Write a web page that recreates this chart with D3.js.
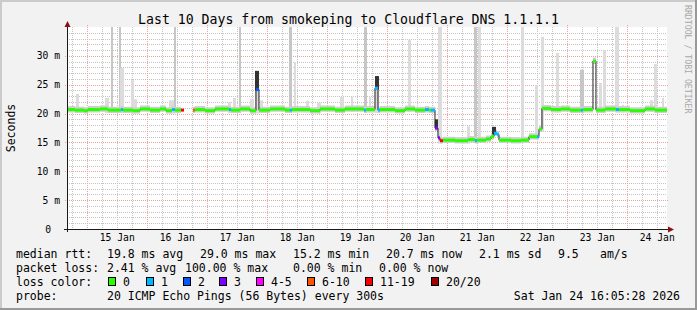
<!DOCTYPE html>
<html>
<head>
<meta charset="utf-8">
<script src="https://cdn.jsdelivr.net/npm/d3@7"></script>
<style>
  body { margin: 0; background: #fff; }
  svg text { font-family: 'DejaVu Sans Mono', monospace; }
</style>
</head>
<body>
<div id="chart"></div>
<script>
// Loss colour classes
const lossLabels = ['0', '1', '2', '3', '4-5', '6-10', '11-19', '20/20'];
const lossColors = ['#26ff00', '#00b8ff', '#0059ff', '#7e00ff', '#ff00ff', '#ff5500', '#ff0000', '#a10000'];

// Median rtt in ms (step after each time), null = no data, with loss class index
const medianTimes = [
  '01-14 16:05', '01-14 19:17', '01-14 22:53', '01-15 00:29', '01-15 05:17', '01-15 08:29',
  '01-15 13:41', '01-15 14:29', '01-15 18:29', '01-15 21:17', '01-16 01:17', '01-16 05:17',
  '01-16 07:41', '01-16 10:05', '01-16 11:17', '01-16 13:41', '01-16 14:53', '01-16 18:29',
  '01-16 19:17', '01-16 23:17', '01-17 03:17', '01-17 08:53', '01-17 09:41', '01-17 13:17',
  '01-17 17:17', '01-17 19:41', '01-17 20:53', '01-18 01:17', '01-18 07:17', '01-18 09:17',
  '01-18 10:05', '01-18 17:17', '01-18 21:17', '01-19 03:17', '01-19 07:17', '01-19 14:53',
  '01-19 15:41', '01-19 19:17', '01-19 20:29', '01-19 21:17', '01-20 03:17', '01-20 07:17',
  '01-20 11:17', '01-20 15:17', '01-20 16:53', '01-20 17:41', '01-20 19:17', '01-20 20:29',
  '01-20 21:17', '01-20 22:29', '01-21 03:17', '01-21 08:29', '01-21 11:17', '01-21 12:05',
  '01-21 15:41', '01-21 17:41', '01-21 18:53', '01-21 20:05', '01-21 20:53', '01-22 01:41',
  '01-22 05:41', '01-22 08:53', '01-22 12:05', '01-22 12:53', '01-22 14:05', '01-22 17:41',
  '01-22 21:41', '01-23 01:17', '01-23 05:41', '01-23 06:29', '01-23 10:29', '01-23 11:41',
  '01-23 15:17', '01-23 19:41', '01-23 20:53', '01-24 01:17', '01-24 07:17', '01-24 11:17'
];
const medianValues = [
  20.7, 20.6, 20.5, 20.7, 20.8, 20.6,
  20.7, 20.6, 20.5, 20.8, 20.6, 20.8,
  20.5, 20.7, 20.6, 20.6, null, 20.6,
  20.7, 20.5, 20.8, 20.7, 20.6, 20.8,
  20.5, 24.2, 20.6, 20.8, 20.6, 20.6,
  20.7, 20.5, 20.8, 20.6, 20.8, 20.6,
  20.7, 24.4, 20.6, 20.7, 20.5, 20.8,
  20.6, 20.7, 20.6, 20.6, 17.5, 15.8,
  15.3, 15.4, 15.3, 15.5, 15.3, 15.4,
  15.6, 16.0, 16.6, 16.4, 15.4, 15.3,
  15.4, 16.0, 16.0, 17.3, 20.9, 20.7,
  20.8, 20.6, 20.6, 20.7, 29.1, 20.6,
  20.8, 20.7, 20.7, 20.5, 20.8, 20.6
];
const medianLoss = [
  0, 0, 0, 0, 0, 0,
  1, 0, 0, 0, 0, 0,
  0, 1, 0, 6, 0, 5,
  0, 0, 0, 1, 0, 0,
  0, 2, 0, 0, 0, 1,
  0, 0, 0, 0, 0, 1,
  0, 1, 1, 0, 0, 0,
  0, 1, 0, 1, 3, 3,
  6, 0, 0, 0, 1, 0,
  0, 0, 1, 1, 0, 0,
  0, 0, 1, 0, 0, 0,
  0, 0, 1, 0, 0, 0,
  0, 1, 0, 0, 0, 0
];

// Outlier smoke columns: start, end, top (ms), shade (1 light, 2 medium)
const spikeStart = [
  '01-14 19:41', '01-15 07:17', '01-15 09:41', '01-15 12:53', '01-15 13:17', '01-15 17:41',
  '01-15 18:53', '01-16 08:53', '01-16 10:53', '01-17 08:29', '01-17 10:29', '01-17 12:53',
  '01-17 17:17', '01-17 19:17', '01-17 21:17', '01-18 08:53', '01-18 10:53', '01-18 15:41',
  '01-18 20:05', '01-19 05:17', '01-19 09:41', '01-19 14:53', '01-19 16:53', '01-19 19:17',
  '01-20 08:29', '01-20 20:29', '01-21 08:05', '01-21 10:53', '01-21 12:29', '01-22 05:41',
  '01-22 11:17', '01-22 13:41', '01-22 19:41', '01-23 05:17', '01-23 12:53', '01-23 14:29',
  '01-23 19:17', '01-23 22:05', '01-24 09:17', '01-24 10:53', '01-24 14:05'
];
const spikeEnd = [
  '01-14 20:53', '01-15 08:53', '01-15 10:29', '01-15 13:41', '01-15 14:53', '01-15 18:53',
  '01-15 20:05', '01-16 11:17', '01-16 11:41', '01-17 09:41', '01-17 11:41', '01-17 13:41',
  '01-17 18:53', '01-17 20:53', '01-17 22:29', '01-18 10:05', '01-18 11:41', '01-18 16:53',
  '01-18 21:41', '01-19 06:53', '01-19 10:29', '01-19 16:05', '01-19 17:41', '01-19 20:53',
  '01-20 09:41', '01-20 22:05', '01-21 09:17', '01-21 12:05', '01-21 13:41', '01-22 06:53',
  '01-22 12:29', '01-22 14:53', '01-22 20:53', '01-23 06:53', '01-23 14:05', '01-23 15:41',
  '01-23 20:53', '01-23 22:53', '01-24 10:29', '01-24 12:05', '01-24 14:53'
];
const spikeTop = [
  23.4, 22.7, 40, 40, 27.9, 25.8,
  22.5, 22.3, 40, 22.0, 22.7, 40,
  22.5, 24.2, 22.3, 40, 28.9, 22.2,
  21.9, 22.9, 22.9, 40, 22.8, 24.4,
  32.8, 40, 17.8, 40, 40, 40,
  25.0, 33.3, 30.5, 27.6, 25.3, 31.0,
  40, 21.5, 22.3, 28.6, 22.7
];
const spikeShade = [
  1, 1, 2, 2, 1, 1,
  1, 1, 2, 1, 1, 2,
  1, 1, 1, 2, 1, 1,
  1, 1, 1, 2, 1, 1,
  1, 1, 1, 2, 1, 1,
  1, 1, 1, 2, 1, 1,
  1, 1, 1, 1, 1
];

// Dense smoke where the median jumps: start, end, low, high (ms)
const denseStart = ['01-17 19:17', '01-19 19:17', '01-20 19:17', '01-21 18:05'];
const denseEnd = ['01-17 20:53', '01-19 20:53', '01-20 20:29', '01-21 19:41'];
const denseLow = [24.0, 24.2, 17.3, 16.4];
const denseHigh = [27.4, 26.5, 19.0, 17.7];

// Axis values
const yTicks = [0, 5, 10, 15, 20, 25, 30];

// Legend texts
const rttStats = ['19.8 ms avg', '29.0 ms max', '15.2 ms min', '20.7 ms now', '2.1 ms sd', '9.5', 'am/s'];
const lossStats = ['2.41 % avg', '100.00 % max', '0.00 % min', '0.00 % now'];
const probeText = '20 ICMP Echo Pings (56 Bytes) every 300s';
const dateText = 'Sat Jan 24 16:05:28 2026';
const titleText = 'Last 10 Days from smokeping to Cloudflare DNS 1.1.1.1';

function createChart(elementId) {
    const width = 697;
    const height = 310;
    const plot = { left: 67, right: 667, top: 27, bottom: 229 };

    const parse = s => d3.timeParse('%Y-%m-%d %H:%M')('2026-' + s);
    const start = new Date(2026, 0, 14, 16, 5, 28);
    const end = new Date(2026, 0, 24, 16, 5, 28);

    const median = medianTimes.map((t, i) => ({ time: parse(t), value: medianValues[i], loss: medianLoss[i] }));
    median.push({ time: end, value: medianValues[medianValues.length - 1], loss: 0 });

    const x = d3.scaleTime().domain([start, end]).range([plot.left, plot.right]);
    const y = d3.scaleLinear().domain([0, 35]).range([plot.bottom, plot.top]);

    const svg = d3.select(elementId).append('svg')
        .attr('width', width)
        .attr('height', height);

    // Background and 3d border
    svg.append('rect').attr('width', width).attr('height', height).attr('fill', '#f2f2f2');
    svg.append('path').attr('d', `M0,0H${width}V2H2V${height}H0Z`).attr('fill', '#cbcbcb');
    svg.append('path').attr('d', `M${width},0V${height}H0V${height - 2}H${width - 2}V0Z`).attr('fill', '#999999');

    svg.append('rect')
        .attr('x', plot.left).attr('y', plot.top)
        .attr('width', plot.right - plot.left).attr('height', plot.bottom - plot.top)
        .attr('fill', '#ffffff');

    svg.append('clipPath').attr('id', 'plot-clip')
        .append('rect')
        .attr('x', plot.left).attr('y', plot.top)
        .attr('width', plot.right - plot.left).attr('height', plot.bottom - plot.top);

    // Grid
    const grid = svg.append('g').attr('class', 'grid');
    const minorY = d3.range(1, 36).filter(v => v % 5 !== 0);
    grid.selectAll('.minor-y').data(minorY).enter().append('line')
        .attr('x1', plot.left).attr('x2', plot.right)
        .attr('y1', d => Math.round(y(d)) + 0.5).attr('y2', d => Math.round(y(d)) + 0.5)
        .attr('stroke', '#c4c4c4').attr('stroke-dasharray', '1,1');
    const minorX = d3.timeHour.every(6).range(start, end).filter(d => d.getHours() !== 0);
    grid.selectAll('.minor-x').data(minorX).enter().append('line')
        .attr('x1', d => Math.round(x(d)) + 0.5).attr('x2', d => Math.round(x(d)) + 0.5)
        .attr('y1', plot.top).attr('y2', plot.bottom)
        .attr('stroke', '#c4c4c4').attr('stroke-dasharray', '1,1');
    grid.selectAll('.major-y').data(yTicks.filter(v => v > 0)).enter().append('line')
        .attr('x1', plot.left - 2).attr('x2', plot.right + 2)
        .attr('y1', d => Math.round(y(d)) + 0.5).attr('y2', d => Math.round(y(d)) + 0.5)
        .attr('stroke', '#f2a0a0').attr('stroke-dasharray', '1,1');
    grid.selectAll('.major-x').data(d3.timeDay.range(start, end)).enter().append('line')
        .attr('x1', d => Math.round(x(d)) + 0.5).attr('x2', d => Math.round(x(d)) + 0.5)
        .attr('y1', plot.top - 2).attr('y2', plot.bottom + 2)
        .attr('stroke', '#f2a0a0').attr('stroke-dasharray', '1,1');

    const data = svg.append('g').attr('clip-path', 'url(#plot-clip)');

    // Median lookup for the foot of each smoke column
    const bisect = d3.bisector(d => d.time).right;
    const medianAt = t => {
        const i = Math.max(0, bisect(median, t) - 1);
        return median[i].value == null ? 20.6 : median[i].value;
    };

    // Outlier smoke columns
    const spikes = spikeStart.map((s, i) => ({
        t0: parse(s), t1: parse(spikeEnd[i]), top: Math.min(spikeTop[i], 35.5), shade: spikeShade[i]
    }));
    data.selectAll('.spike').data(spikes).enter().append('rect')
        .attr('x', d => x(d.t0))
        .attr('width', d => Math.max(1, x(d.t1) - x(d.t0)))
        .attr('y', d => y(d.top))
        .attr('height', d => y(Math.min(medianAt(d.t0), medianAt(d.t1)) - 0.5) - y(d.top))
        .attr('fill', d => d.shade === 2 ? '#c6c6c6' : '#dcdcdc');

    // Smoke band around the median
    const band = d3.area()
        .defined(d => d.value != null)
        .curve(d3.curveStepAfter)
        .x(d => x(d.time))
        .y0(d => y(d.value - 0.5))
        .y1(d => y(d.value + 0.6));
    data.append('path').datum(median).attr('d', band).attr('fill', '#cfcfcf');

    // Dense smoke near median jumps
    const dense = denseStart.map((s, i) => ({ t0: parse(s), t1: parse(denseEnd[i]), low: denseLow[i], high: denseHigh[i] }));
    data.selectAll('.dense').data(dense).enter().append('rect')
        .attr('x', d => x(d.t0))
        .attr('width', d => x(d.t1) - x(d.t0))
        .attr('y', d => y(d.high))
        .attr('height', d => y(d.low) - y(d.high))
        .attr('fill', '#333333');

    // Thin dark median line (shows on the jumps)
    const medianLine = d3.line()
        .defined(d => d.value != null)
        .curve(d3.curveStepAfter)
        .x(d => x(d.time))
        .y(d => y(d.value));
    data.append('path').datum(median)
        .attr('d', medianLine)
        .attr('fill', 'none')
        .attr('stroke', '#202020')
        .attr('stroke-width', 1);

    // Loss coloured median segments
    const segments = median.slice(0, -1)
        .map((d, i) => ({ t0: d.time, t1: median[i + 1].time, value: d.value, loss: d.loss }))
        .filter(d => d.value != null);
    data.selectAll('.seg').data(segments).enter().append('line')
        .attr('x1', d => x(d.t0)).attr('x2', d => x(d.t1))
        .attr('y1', d => y(d.value)).attr('y2', d => y(d.value))
        .attr('stroke', d => lossColors[d.loss])
        .attr('stroke-width', 3);

    // Axes
    const axisColor = '#1a1a1a';
    const arrowColor = '#8b1010';
    svg.append('line')
        .attr('x1', plot.left + 0.5).attr('x2', plot.left + 0.5)
        .attr('y1', plot.bottom + 3).attr('y2', plot.top - 3)
        .attr('stroke', axisColor);
    svg.append('line')
        .attr('x1', plot.left - 3).attr('x2', plot.right + 3)
        .attr('y1', plot.bottom + 0.5).attr('y2', plot.bottom + 0.5)
        .attr('stroke', axisColor);
    svg.append('path')
        .attr('d', `M${plot.left + 0.5},${plot.top - 6}L${plot.left + 3.5},${plot.top}L${plot.left - 2.5},${plot.top}Z`)
        .attr('fill', arrowColor);
    svg.append('path')
        .attr('d', `M${plot.right + 7},${plot.bottom + 0.5}L${plot.right + 1},${plot.bottom - 2.5}L${plot.right + 1},${plot.bottom + 3.5}Z`)
        .attr('fill', arrowColor);

    const yAxis = svg.append('g')
        .attr('transform', `translate(${plot.left},0)`)
        .call(d3.axisLeft(y).tickValues(yTicks).tickSize(0).tickPadding(7)
            .tickFormat(d => d === 0 ? '0' : `${d} m`));
    yAxis.select('.domain').remove();
    yAxis.selectAll('text')
        .style('font-family', 'DejaVu Sans Mono')
        .style('font-size', '9.7px')
        .attr('fill', '#000')
        .attr('x', d => d === 0 ? -16 : -7);

    const noons = d3.timeDay.range(start, end).map(d => d3.timeHour.offset(d, 12));
    const xAxis = svg.append('g')
        .attr('transform', `translate(0,${plot.bottom})`)
        .call(d3.axisBottom(x).tickValues(noons).tickSize(0).tickPadding(5)
            .tickFormat(d3.timeFormat('%d Jan')));
    xAxis.select('.domain').remove();
    xAxis.selectAll('text')
        .style('font-family', 'DejaVu Sans Mono')
        .style('font-size', '9.7px')
        .attr('fill', '#000');

    // Title, unit label and watermark
    svg.append('text')
        .attr('x', width / 2).attr('y', 24)
        .attr('text-anchor', 'middle')
        .style('font-size', '13.2px')
        .text(titleText);
    svg.append('text')
        .attr('transform', 'translate(15,128) rotate(-90)')
        .attr('text-anchor', 'middle')
        .style('font-size', '11.5px')
        .text('Seconds');
    svg.append('text')
        .attr('transform', 'translate(685,5) rotate(90)')
        .style('font-size', '8.2px')
        .attr('fill', '#a8a8a8')
        .text('RRDTOOL / TOBI OETIKER');

    // Legend
    const legend = svg.append('g').style('font-size', '11.5px').attr('fill', '#000');
    const rows = [258, 272, 286, 300];
    const put = (tx, ty, s, anchor) => legend.append('text')
        .attr('x', tx).attr('y', ty)
        .attr('text-anchor', anchor || 'start')
        .style('white-space', 'pre')
        .text(s);

    put(16, rows[0], 'median rtt:');
    [107, 200, 293, 386, 479, 558, 600].forEach((px, i) => put(px, rows[0], rttStats[i]));

    put(16, rows[1], 'packet loss:');
    [107, 185, 293, 379].forEach((px, i) => put(px, rows[1], lossStats[i]));

    put(16, rows[2], 'loss color:');
    [108, 146, 183, 219, 256, 307, 365, 431].forEach((px, i) => {
        legend.append('rect')
            .attr('x', px + 0.5).attr('y', rows[2] - 8.5)
            .attr('width', 7).attr('height', 8)
            .attr('fill', lossColors[i])
            .attr('stroke', '#000').attr('stroke-width', 1);
        put(px + 15, rows[2], lossLabels[i]);
    });

    put(16, rows[3], 'probe:');
    put(107, rows[3], probeText);
    put(680, rows[3], dateText, 'end');
}

createChart('#chart');
</script>
</body>
</html>
